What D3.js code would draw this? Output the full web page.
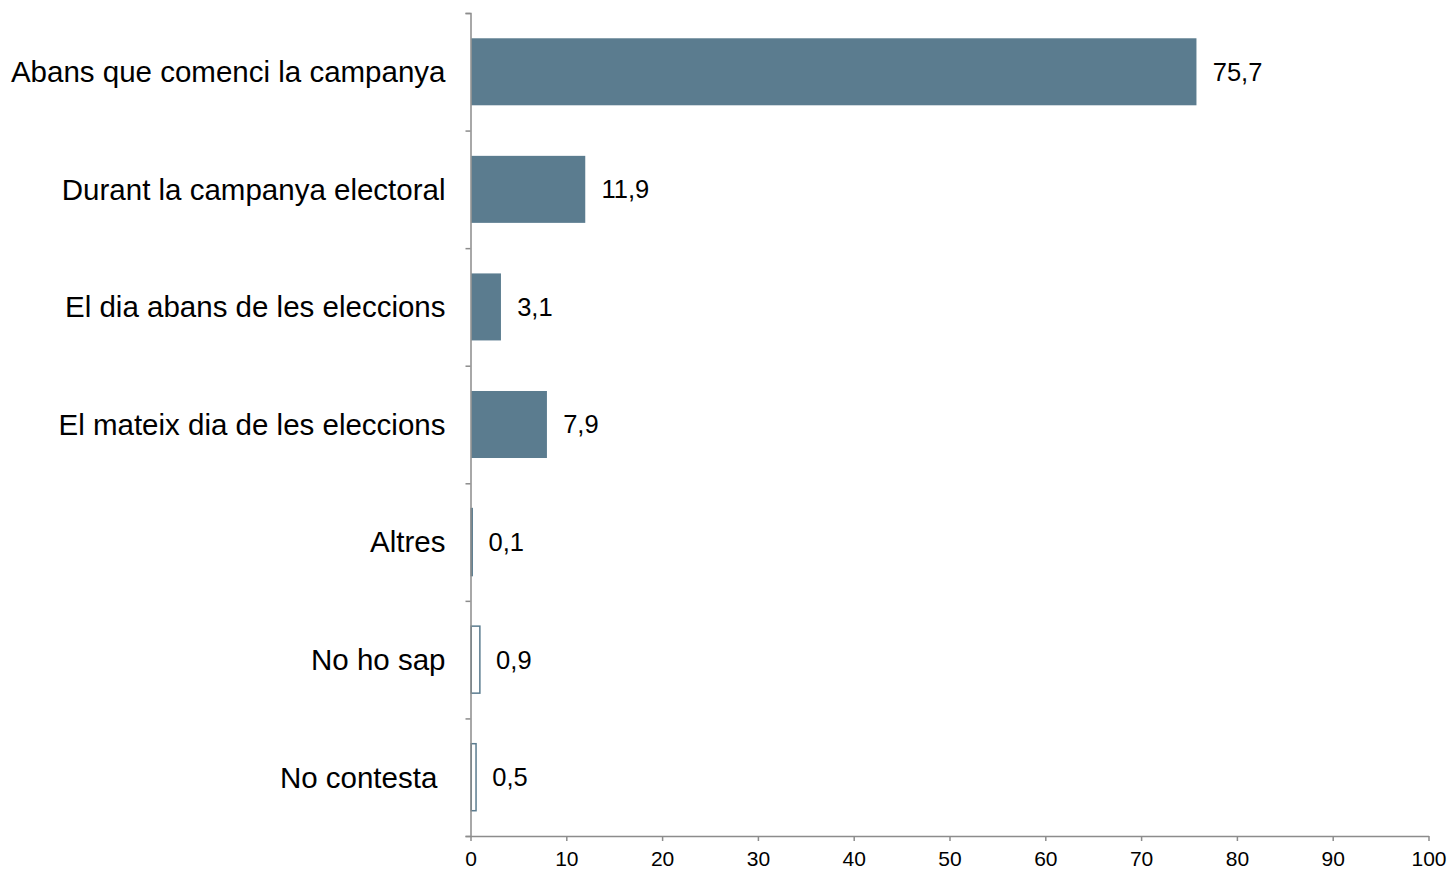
<!DOCTYPE html>
<html>
<head>
<meta charset="utf-8">
<script src="https://cdn.jsdelivr.net/npm/d3@7"></script>
<style>
  body { margin: 0; background: #fff; }
  .g-chart text { font-family: "Liberation Sans", Arial, sans-serif; fill: #000; }
  .axis path, .axis line { stroke: #8c8c8c; stroke-width: 1.5; }
  .g-cat { font-size: 29.5px; white-space: pre; }
  .g-labels { font-size: 25.5px; }
  .x.axis text { font-size: 21px; }
</style>
</head>
<body>
<div class="g-chart"></div>
<script>
//Margin conventions
var margin = {top: 13, right: 22, bottom: 35, left: 470.5};
var width = 1450 - margin.left - margin.right,
    height = 871 - margin.top - margin.bottom;

//Local data
var categories = ["Abans que comenci la campanya", "Durant la campanya electoral",
  "El dia abans de les eleccions", "El mateix dia de les eleccions",
  "Altres", "No ho sap", "No contesta "];
var values = [75.7, 11.9, 3.1, 7.9, 0.1, 0.9, 0.5];
var xTicks = [0, 10, 20, 30, 40, 50, 60, 70, 80, 90, 100];

var data = categories.map(function(c, i) { return {category: c, num: values[i]}; });

var barColor = "#5b7c8f";

//Appends the svg
var svg = d3.select(".g-chart").append("svg")
  .attr("width", 1450)
  .attr("height", 871)
  .append("g")
  .attr("transform", "translate(" + margin.left + "," + margin.top + ")");

//Scales
var xScale = d3.scaleLinear().domain([0, 100]).range([0, 958]);

var y0 = d3.scaleBand()
  .domain(categories)
  .range([0, height])
  .paddingInner(0.43)
  .paddingOuter(0.215);

//boundary ticks on the y axis
var yEdges = d3.scaleLinear().domain([0, categories.length]).range([0, height]);

var yAxis = d3.axisLeft(yEdges)
  .ticks(categories.length)
  .tickFormat("")
  .tickSize(5)
  .tickSizeOuter(5);

var xAxis = d3.axisBottom(xScale)
  .tickValues(xTicks)
  .tickFormat(function(d) { return d; })
  .tickSize(5)
  .tickSizeOuter(0);

//Bars
var categoryGroup = svg.selectAll(".g-category-group")
  .data(data)
  .enter()
  .append("g")
  .attr("class", "g-category-group")
  .attr("transform", function(d) { return "translate(0," + y0(d.category) + ")"; });

categoryGroup.append("rect")
  .attr("x", 0.75)
  .attr("width", function(d) { return xScale(d.num); })
  .attr("height", y0.bandwidth())
  .style("fill", function(d) { return d.num < 1 ? "#fff" : barColor; })
  .style("stroke", function(d) { return d.num < 1 ? barColor : "none"; })
  .style("stroke-width", 1.5);

//Bar labels
categoryGroup.append("text")
  .attr("class", "g-labels")
  .attr("x", function(d) { return xScale(d.num) + 17; })
  .attr("y", y0.bandwidth() / 2)
  .attr("dy", "0.35em")
  .text(function(d) { return String(d.num).replace(".", ","); });

//Category labels
svg.selectAll(".g-cat")
  .data(data)
  .enter()
  .append("text")
  .attr("class", "g-cat")
  .attr("x", -25)
  .attr("y", function(d) { return y0(d.category) + y0.bandwidth() / 2; })
  .attr("dy", "0.35em")
  .attr("text-anchor", "end")
  .text(function(d) { return d.category; });

//Axes
svg.append("g")
  .attr("class", "y axis")
  .call(yAxis);

var xAxisGroup = svg.append("g")
  .attr("class", "x axis")
  .attr("transform", "translate(0," + height + ")")
  .call(xAxis);

xAxisGroup.selectAll("text").attr("dy", "1.05em");
</script>
</body>
</html>
